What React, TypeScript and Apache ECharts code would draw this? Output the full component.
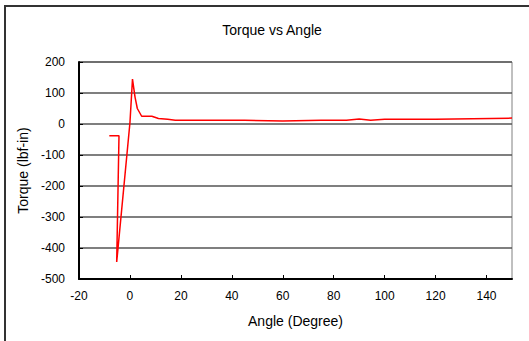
import React, { useEffect, useRef } from "react";
import * as echarts from "echarts";

const angles = [-8.1, -4.3, -5.2, 0, 1.0, 2.0, 2.9, 4.6, 8.6, 11.2, 14.8, 17.8, 30, 45, 60, 75, 85, 90, 94.5, 100, 120, 150];
const torques = [-38, -38, -445, 4, 145, 87, 50, 25, 25, 18, 15, 12, 12, 12, 10, 12, 12, 16, 12, 15, 15, 19];
const xTicks = { min: -20, max: 150, interval: 20 };
const yTicks = { min: -500, max: 200, interval: 100 };

const FONT = "'Liberation Sans', Arial, sans-serif";

export default function App() {
  const ref = useRef<HTMLDivElement>(null);
  useEffect(() => {
    const chart = echarts.init(ref.current!, null, { renderer: "svg" });
    chart.setOption({
      animation: false,
      backgroundColor: "#ffffff",
      title: {
        text: "Torque vs Angle",
        left: 267,
        top: 18,
        textAlign: "center",
        textStyle: { fontFamily: FONT, fontSize: 14, fontWeight: "normal", color: "#000" },
      },
      graphic: [
        {
          type: "rect",
          shape: { x: 5, y: 6, width: 540, height: 350 },
          style: { fill: "none", stroke: "#333", lineWidth: 2 },
          silent: true,
        },
      ],
      grid: {
        left: 79,
        top: 62,
        width: 433,
        height: 217,
        show: true,
        borderColor: "#808080",
        borderWidth: 1,
        backgroundColor: "transparent",
      },
      xAxis: {
        type: "value",
        min: xTicks.min,
        max: xTicks.max,
        interval: xTicks.interval,
        name: "Angle (Degree)",
        nameLocation: "middle",
        nameGap: 35,
        nameTextStyle: { fontFamily: FONT, fontSize: 14, color: "#000" },
        axisLine: { show: true, onZero: false, lineStyle: { color: "#000", width: 2 } },
        axisTick: { show: true, inside: true, length: 4, lineStyle: { color: "#000" } },
        axisLabel: { showMaxLabel: false, margin: 11, fontFamily: FONT, fontSize: 12, color: "#000" },
        splitLine: { show: false },
      },
      yAxis: {
        type: "value",
        min: yTicks.min,
        max: yTicks.max,
        interval: yTicks.interval,
        name: "Torque (lbf-in)",
        nameLocation: "middle",
        nameGap: 47,
        nameTextStyle: { fontFamily: FONT, fontSize: 14, color: "#000" },
        axisLine: { show: true, onZero: false, lineStyle: { color: "#000", width: 2 } },
        axisTick: { show: true, inside: true, length: 4, lineStyle: { color: "#000" } },
        axisLabel: { margin: 14, fontFamily: FONT, fontSize: 12, color: "#000" },
        splitLine: { show: true, lineStyle: { color: "#555", width: 1.5 } },
      },
      series: [
        {
          type: "line",
          data: angles.map((a, i) => [a, torques[i]]),
          showSymbol: false,
          symbol: "none",
          lineStyle: { color: "#ff0000", width: 1.5 },
          itemStyle: { color: "#ff0000" },
        },
      ],
    });
    return () => chart.dispose();
  }, []);
  return (
    <div
      ref={ref}
      style={{ position: "absolute", left: 0, top: 0, width: 529, height: 341 }}
    />
  );
}
